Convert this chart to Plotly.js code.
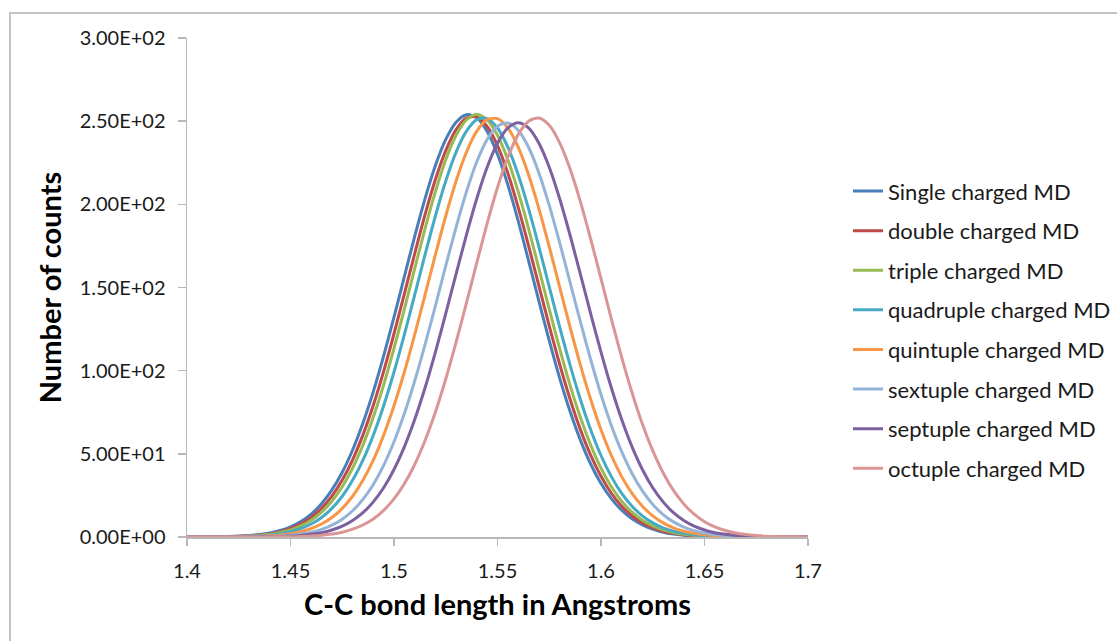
<!DOCTYPE html>
<html>
<head>
<meta charset="utf-8">
<script src="https://cdn.plot.ly/plotly-3.0.1.min.js"></script>
<style>
html,body{margin:0;padding:0;background:#fff;}
#chart{width:1117px;height:641px;}
#frame{position:absolute;left:9px;top:12px;width:1200px;height:700px;border-left:2px solid #c4c4c4;border-top:2px solid #c4c4c4;pointer-events:none;}
</style>
</head>
<body>
<div id="chart"></div>
<div id="frame"></div>
<script>
// Bond length (Angstrom)
const bondLength = [1.400,1.405,1.410,1.415,1.420,1.425,1.430,1.435,1.440,1.445,1.450,1.455,1.460,1.465,1.470,1.475,1.480,1.485,1.490,1.495,1.500,1.505,1.510,1.515,1.520,1.525,1.530,1.535,1.540,1.545,1.550,1.555,1.560,1.565,1.570,1.575,1.580,1.585,1.590,1.595,1.600,1.605,1.610,1.615,1.620,1.625,1.630,1.635,1.640,1.645,1.650,1.655,1.660,1.665,1.670,1.675,1.680,1.685,1.690,1.695,1.700];

const seriesNames = ["Single charged MD","double charged MD","triple charged MD","quadruple charged MD","quintuple charged MD","sextuple charged MD","septuple charged MD","octuple charged MD"];

const singleMD    = [0,0.04,0.09,0.16,0.28,0.51,0.89,1.50,2.44,3.9,6.12,9.3,13.8,20.0,28.3,38.9,52.3,68.5,87.4,108.9,132.2,156.5,180.7,203.4,223.3,239.0,249.4,253.9,252.0,243.8,230.1,211.7,190.0,166.2,141.8,118.0,95.7,75.7,58.4,43.9,32.2,23.1,16.1,10.9,7.3,4.7,2.9,1.8,1.1,0.64,0.36,0.20,0.11,0.06,0.03,0.02,0,0,0,0,0];
const doubleMD    = [0,0.03,0.07,0.12,0.23,0.40,0.71,1.21,2.0,3.2,5.1,7.9,11.8,17.3,24.6,34.2,46.4,61.4,79.2,99.6,122.2,146.1,170.4,193.8,214.9,232.3,245.0,251.9,252.5,246.8,235.3,218.7,198.2,175.2,151.0,126.9,104.0,83.1,64.7,49.2,36.5,26.3,18.5,12.8,8.5,5.6,3.5,2.2,1.3,0.78,0.46,0.25,0.14,0.07,0.04,0.02,0,0,0,0,0];
const tripleMD    = [0,0.03,0.05,0.10,0.18,0.32,0.56,0.98,1.65,2.7,4.3,6.7,10.1,14.9,21.5,30.2,41.4,55.3,72.1,91.5,113.4,137.0,161.4,185.4,207.6,226.8,241.5,250.8,254.0,250.8,241.5,226.8,207.6,185.4,161.4,137.0,113.4,91.5,72.1,55.3,41.4,30.2,21.5,14.9,10.1,6.7,4.3,2.7,1.65,0.98,0.56,0.32,0.18,0.10,0.05,0.03,0,0,0,0,0];
const quadrupleMD = [0,0.02,0.03,0.07,0.12,0.23,0.40,0.71,1.2,2.0,3.2,5.1,7.8,11.7,17.2,24.5,34.1,46.2,61.2,78.9,99.2,121.7,145.6,169.7,193.0,214.0,231.4,244.0,250.9,251.5,245.9,234.4,217.8,197.4,174.5,150.4,126.4,103.6,82.8,64.5,49.0,36.3,26.2,18.5,12.7,8.5,5.5,3.5,2.2,1.3,0.78,0.45,0.25,0.14,0.07,0.04,0,0,0,0,0];
const quintupleMD = [0,0,0.02,0.03,0.07,0.12,0.23,0.40,0.71,1.2,2.0,3.2,5.1,7.8,11.7,17.2,24.5,34.1,46.2,61.2,78.9,99.2,121.7,145.6,169.7,193.0,214.0,231.4,244.0,250.9,251.5,245.9,234.4,217.8,197.4,174.5,150.4,126.4,103.6,82.8,64.5,49.0,36.3,26.2,18.5,12.7,8.5,5.5,3.5,2.2,1.3,0.78,0.45,0.25,0.14,0.07,0.04,0,0,0,0];
const sextupleMD  = [0,0,0,0.02,0.02,0.06,0.11,0.20,0.35,0.62,1.07,1.8,2.9,4.6,7.1,10.7,15.8,22.6,31.6,43.1,57.3,74.2,93.8,115.7,139.0,163.0,186.3,207.6,225.6,239.0,247.0,248.9,244.5,234.3,218.9,199.4,177.1,153.4,129.6,106.7,85.7,67.1,51.3,38.2,27.7,19.6,13.5,9.1,6.0,3.8,2.4,1.5,0.87,0.50,0.27,0.15,0.08,0.04,0.02,0,0];
const septupleMD  = [0,0,0,0,0.01,0.02,0.05,0.09,0.17,0.32,0.55,0.96,1.6,2.6,4.2,6.5,9.9,14.6,21.1,29.6,40.6,54.2,70.6,89.7,111.2,134.3,158.2,181.7,203.5,222.3,236.7,245.9,249.0,245.9,236.7,222.3,203.5,181.7,158.2,134.3,111.2,89.7,70.6,54.2,40.6,29.6,21.1,14.6,9.9,6.5,4.2,2.6,1.6,0.96,0.55,0.32,0.17,0.09,0.05,0.02,0.01];
const octupleMD   = [0,0,0,0,0,0,0.02,0.03,0.06,0.11,0.20,0.35,0.63,1.08,1.8,2.9,4.7,7.2,10.8,16.0,22.9,32.0,43.6,58.0,75.1,95.0,117.1,140.7,164.9,188.5,210.1,228.3,241.9,250.0,251.9,247.5,237.1,221.5,201.8,179.2,155.3,131.1,108.0,86.7,67.9,51.9,38.6,28.0,19.9,13.7,9.2,6.1,3.9,2.4,1.5,0.88,0.50,0.28,0.15,0.09,0.04];

const seriesValues = [singleMD,doubleMD,tripleMD,quadrupleMD,quintupleMD,sextupleMD,septupleMD,octupleMD];
const seriesColors = ["#4a7ebb","#be4b48","#98b954","#46aac5","#f79646","#95b3d7","#7d60a0","#d99694"];

const xTickVals = [1.4,1.45,1.5,1.55,1.6,1.65,1.7];
const xTickText = ["1.4","1.45","1.5","1.55","1.6","1.65","1.7"];
const yTickVals = [0,50,100,150,200,250,300];
const yTickText = ["0.00E+00","5.00E+01","1.00E+02","1.50E+02","2.00E+02","2.50E+02","3.00E+02"];

const traces = seriesNames.map((name,i)=>({
  type:'scatter', mode:'lines', name:name,
  x:bondLength, y:seriesValues[i],
  legendgroup:'g'+i,
  line:{color:seriesColors[i], width:3, shape:'spline', smoothing:0.8}
}));

const font = "Lato, 'Open Sans', sans-serif";
const layout = {
  width:1117, height:641,
  margin:{l:187, r:309, t:38, b:104, autoexpand:false},
  paper_bgcolor:'#fff', plot_bgcolor:'#fff',
  showlegend:true,
  legend:{x:1.0644, xanchor:'left', y:0.735, yanchor:'top', tracegroupgap:8,
          font:{family:font, size:22, color:'#1a1a1a'}, bgcolor:'rgba(0,0,0,0)'},
  xaxis:{range:[1.4,1.7], tickvals:xTickVals, ticktext:xTickText,
         showgrid:false, zeroline:false, showline:true, linecolor:'#b8b8b8', linewidth:2,
         ticks:'outside', ticklen:7, tickcolor:'#b8b8b8', tickwidth:1.5,
         tickfont:{family:font, size:20, color:'#1a1a1a'}, ticklabelstandoff:8,
         title:{text:'<b>C-C bond length in Angstroms</b>', font:{family:font, size:29, color:'#000'}, standoff:14}},
  yaxis:{range:[0,300], tickvals:yTickVals, ticktext:yTickText,
         showgrid:false, zeroline:false, showline:true, linecolor:'#b8b8b8', linewidth:1.5,
         ticks:'outside', ticklen:8, tickcolor:'#b8b8b8', tickwidth:1.5,
         tickfont:{family:font, size:20, color:'#1a1a1a'}, ticklabelstandoff:8,
         title:{text:'<b>Number of counts</b>', font:{family:font, size:29, color:'#000'}, standoff:9}}
};

Plotly.newPlot('chart', traces, layout, {displayModeBar:false, staticPlot:true});
</script>
</body>
</html>
